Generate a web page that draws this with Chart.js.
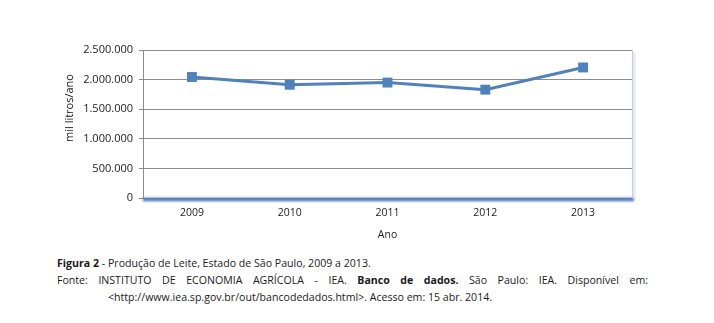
<!DOCTYPE html>
<html lang="pt-BR">
<head>
  <meta charset="UTF-8" />
  <title>Produção de Leite, Estado de São Paulo</title>
  <script src="https://cdn.jsdelivr.net/npm/chart.js@4"></script>
  <style>
    html, body { margin: 0; padding: 0; background: #fff; }
    body { width: 714px; height: 323px; position: relative; overflow: hidden; font-family: "Open Sans", sans-serif; color: #1a1a1a; }
    #chartBox { position: absolute; left: 0; top: 0; width: 714px; height: 250px; }
    .cap { position: absolute; font-size: 10.6px; line-height: 12px; white-space: nowrap; }
    #cap1 { left: 57px; top: 257px; }
    #cap2 { left: 57px; top: 274px; width: 591px; text-align: justify; text-align-last: justify; white-space: normal; }
    #cap3 { left: 108px; top: 291px; }
  </style>
</head>
<body>
  <div id="chartBox"><canvas id="leiteChart"></canvas></div>
  <div class="cap" id="cap1"><b>Figura 2</b> - Produção de Leite, Estado de São Paulo, 2009 a 2013.</div>
  <div class="cap" id="cap2">Fonte: INSTITUTO DE ECONOMIA AGRÍCOLA - IEA. <b>Banco de dados.</b> São Paulo: IEA. Disponível em:</div>
  <div class="cap" id="cap3">&lt;http://www.iea.sp.gov.br/out/bancodedados.html&gt;. Acesso em: 15 abr. 2014.</div>

  <script>
    // produção anual de leite (mil litros)
    const anos = ['2009', '2010', '2011', '2012', '2013'];
    const producao = [2044000, 1913000, 1950000, 1830000, 2205000];
    const yTicks = [0, 500000, 1000000, 1500000, 2000000, 2500000];

    const azul = '#4F81BD';

    const fmt = v => v.toString().replace(/\B(?=(\d{3})+(?!\d))/g, '.');

    // sombra azul sob o eixo x e borda direita da área de plotagem
    const plotFrame = {
      id: 'plotFrame',
      beforeDatasetsDraw(chart) {
        const { ctx, chartArea: a } = chart;
        ctx.save();
        ctx.filter = 'blur(1.2px)';
        ctx.strokeStyle = '#4a78bd';
        ctx.lineWidth = 3.5;
        ctx.beginPath();
        ctx.moveTo(a.left, a.bottom + 1.5);
        ctx.lineTo(a.right + 2, a.bottom + 1.5);
        ctx.stroke();
        ctx.strokeStyle = 'rgba(170,195,230,0.6)';
        ctx.lineWidth = 2;
        ctx.beginPath();
        ctx.moveTo(a.right + 2, a.top + 2);
        ctx.lineTo(a.right + 2, a.bottom);
        ctx.stroke();
        ctx.restore();
        ctx.save();
        ctx.strokeStyle = '#c8ccd2';
        ctx.lineWidth = 1;
        ctx.beginPath();
        ctx.moveTo(a.right + 0.5, a.top);
        ctx.lineTo(a.right + 0.5, a.bottom);
        ctx.stroke();
        ctx.restore();
      }
    };

    // título do eixo y, um pouco acima do centro
    const yTitle = {
      id: 'yTitle',
      afterDraw(chart) {
        const { ctx } = chart;
        ctx.save();
        ctx.translate(70, 108);
        ctx.rotate(-Math.PI / 2);
        ctx.font = '11px "Open Sans", sans-serif';
        ctx.fillStyle = '#1a1a1a';
        ctx.textAlign = 'center';
        ctx.textBaseline = 'middle';
        ctx.fillText('mil litros/ano', 0, 0);
        ctx.restore();
      }
    };

    new Chart(document.getElementById('leiteChart'), {
      type: 'line',
      data: {
        labels: anos,
        datasets: [{
          label: 'Produção',
          data: producao,
          borderColor: azul,
          backgroundColor: azul,
          borderWidth: 3,
          tension: 0,
          pointStyle: 'rect',
          pointRadius: 7,
          pointBorderWidth: 0
        }]
      },
      options: {
        responsive: true,
        maintainAspectRatio: false,
        animation: false,
        layout: { padding: { top: 50, right: 82, left: 0, bottom: 0 } },
        plugins: { legend: { display: false }, tooltip: { enabled: false } },
        scales: {
          x: {
            offset: true,
            grid: { display: false, drawTicks: false },
            border: { display: false },
            ticks: { color: '#1a1a1a', font: { family: 'Open Sans', size: 10.5 }, padding: 9 },
            title: { display: true, text: 'Ano', color: '#1a1a1a', font: { family: 'Open Sans', size: 10.5 }, padding: { top: 0, bottom: 9 } },
            afterFit(scale) { scale.height = 52; }
          },
          y: {
            min: 0,
            max: 2500000,
            afterBuildTicks(scale) { scale.ticks = yTicks.map(v => ({ value: v })); },
            grid: { color: '#8c8c8c', lineWidth: 1, tickLength: 4 },
            border: { display: true, color: '#8c8c8c' },
            ticks: { color: '#1a1a1a', font: { family: 'Open Sans', size: 11 }, padding: 6, callback: v => fmt(v) },
            afterFit(scale) { scale.width = 143; }
          }
        }
      },
      plugins: [plotFrame, yTitle]
    });
  </script>
</body>
</html>
